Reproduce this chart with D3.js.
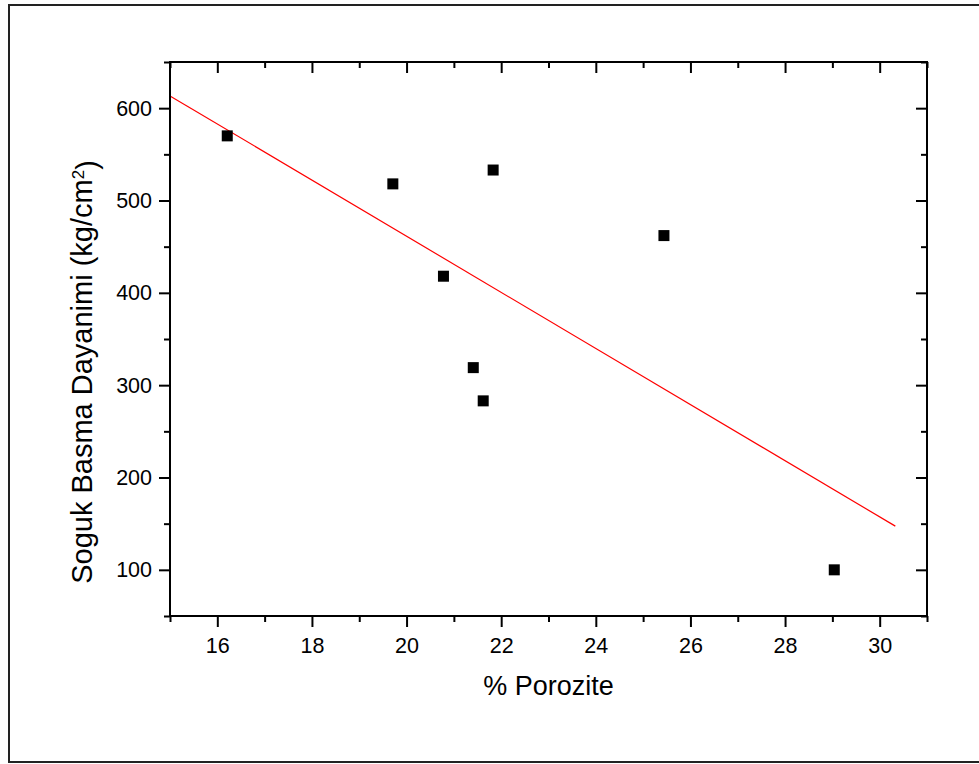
<!DOCTYPE html>
<html>
<head>
<meta charset="utf-8">
<script src="https://cdn.jsdelivr.net/npm/d3@7"></script>
<style>
  body { margin: 0; background: #fff; }
  svg { display: block; font-family: "Liberation Sans", Arial, sans-serif; }
</style>
</head>
<body>
<svg id="chart" width="979" height="764"></svg>
<script>
// data
const porosity = [16.21, 19.71, 20.78, 21.41, 21.62, 21.83, 25.44, 29.04];
const strength = [570, 518, 418, 319, 283, 533, 462, 100];
const fitRange = [15, 30.33]; // x extent of the fitted line
const xMajor = [16, 18, 20, 22, 24, 26, 28, 30];
const xMinor = [15, 17, 19, 21, 23, 25, 27, 29, 31];
const yMajor = [100, 200, 300, 400, 500, 600];
const yMinor = [50, 150, 250, 350, 450, 550, 650];

const svg = d3.select("#chart");

// outer frame
svg.append("rect")
  .attr("x", 9).attr("y", 5)
  .attr("width", 985).attr("height", 757)
  .attr("fill", "none")
  .attr("stroke", "#222")
  .attr("stroke-width", 2);

const plotL = 170, plotR = 927, plotT = 62, plotB = 616;

const x = d3.scaleLinear().domain([15, 31]).range([plotL, plotR]);
const y = d3.scaleLinear().domain([50, 650]).range([plotB, plotT]);

// least squares fit of the points
const mx = d3.mean(porosity), my = d3.mean(strength);
let sxy = 0, sxx = 0;
porosity.forEach((px, i) => {
  sxy += (px - mx) * (strength[i] - my);
  sxx += (px - mx) * (px - mx);
});
const slope = sxy / sxx, icpt = my - slope * mx;

// fitted line
svg.append("path")
  .datum(fitRange.map(v => [v, icpt + slope * v]))
  .attr("fill", "none")
  .attr("stroke", "#ff0000")
  .attr("stroke-width", 1.2)
  .attr("d", d3.line().x(d => x(d[0])).y(d => y(d[1])));

// points
svg.selectAll(".pt")
  .data(porosity.map((px, i) => [px, strength[i]]))
  .enter().append("rect")
  .attr("class", "pt")
  .attr("x", d => x(d[0]) - 5.5)
  .attr("y", d => y(d[1]) - 5.5)
  .attr("width", 11).attr("height", 11)
  .attr("fill", "#000");

function drawAxis(axis, tx, ty) {
  const g = svg.append("g")
    .attr("transform", "translate(" + tx + "," + ty + ")")
    .call(axis);
  g.select(".domain").remove();
  g.selectAll(".tick line").attr("stroke", "#000").attr("stroke-width", 2);
  g.selectAll("text")
    .attr("fill", "#000")
    .style("font-size", "21.5px")
    .style("font-family", "'Liberation Sans', Arial, sans-serif");
  return g;
}

const noLabel = () => "";

// bottom
drawAxis(d3.axisBottom(x).tickValues(xMajor).tickSize(11).tickPadding(10.5).tickFormat(d3.format("d")), 0, plotB);
drawAxis(d3.axisBottom(x).tickValues(xMinor).tickSize(6).tickFormat(noLabel), 0, plotB);
// top (inward)
drawAxis(d3.axisTop(x).tickValues(xMajor).tickSize(-11).tickFormat(noLabel), 0, plotT);
drawAxis(d3.axisTop(x).tickValues(xMinor).tickSize(-6).tickFormat(noLabel), 0, plotT);
// left
drawAxis(d3.axisLeft(y).tickValues(yMajor).tickSize(11).tickPadding(7).tickFormat(d3.format("d")), plotL, 0);
drawAxis(d3.axisLeft(y).tickValues(yMinor).tickSize(6).tickFormat(noLabel), plotL, 0);
// right (inward)
drawAxis(d3.axisRight(y).tickValues(yMajor).tickSize(-11).tickFormat(noLabel), plotR, 0);
drawAxis(d3.axisRight(y).tickValues(yMinor).tickSize(-6).tickFormat(noLabel), plotR, 0);

// plot frame
svg.append("rect")
  .attr("x", plotL).attr("y", plotT)
  .attr("width", plotR - plotL).attr("height", plotB - plotT)
  .attr("fill", "none")
  .attr("stroke", "#000")
  .attr("stroke-width", 2);

// axis titles
svg.append("text")
  .attr("x", (plotL + plotR) / 2)
  .attr("y", 695)
  .attr("text-anchor", "middle")
  .style("font-size", "27px")
  .text("% Porozite");

const yTitle = svg.append("text")
  .attr("transform", "translate(92,372) rotate(-90)")
  .attr("text-anchor", "middle")
  .style("font-size", "29px");
yTitle.append("tspan").text("Soguk Basma Dayanimi (kg/cm");
yTitle.append("tspan").attr("dy", "-0.45em").style("font-size", "17px").text("2");
yTitle.append("tspan").attr("dy", "0.45em").text(")");
</script>
</body>
</html>
